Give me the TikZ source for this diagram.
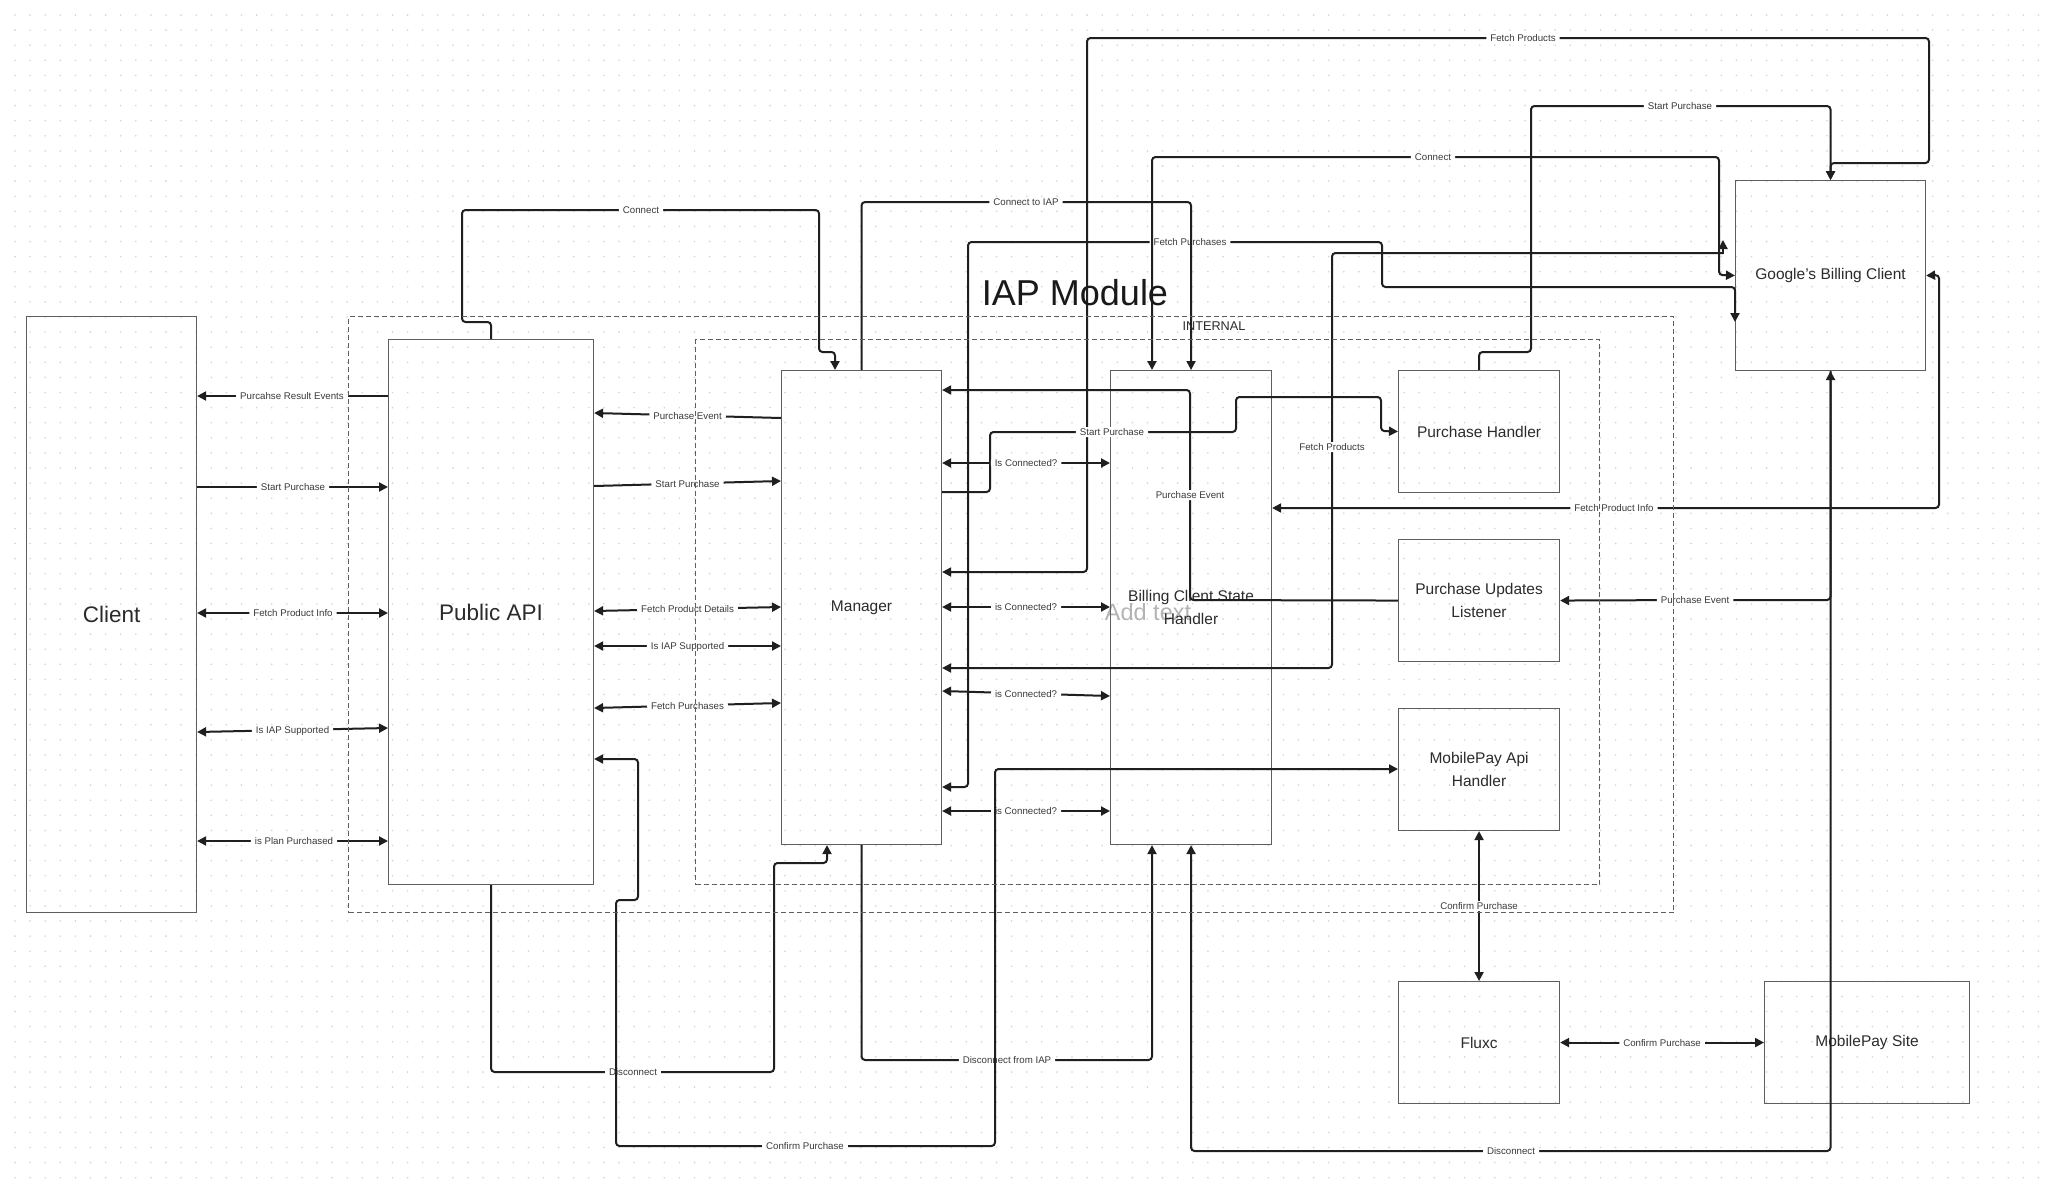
\documentclass[tikz,border=0pt]{standalone}
\usepackage{fontspec}
\setmainfont{Liberation Sans}
\usetikzlibrary{arrows.meta}
\definecolor{ink}{HTML}{1F1F1F}
\definecolor{boxc}{HTML}{5E5E5E}
\definecolor{txt}{HTML}{2B2B2B}
\definecolor{lbltxt}{HTML}{3A3A3A}
\definecolor{dotc}{HTML}{D4D4D4}
\definecolor{ghost}{HTML}{B4B4B4}
\begin{document}
\begin{tikzpicture}[x=1pt,y=-1pt,
  >={Triangle[length=9pt,width=9pt]},
  box/.style={draw=boxc, line width=1.1pt, inner sep=0pt, anchor=north west, text=txt, align=center, font=\fontsize{15.5}{23}\selectfont},
  bigbox/.style={box, font=\fontsize{22.5}{27}\selectfont},
  conn/.style={draw=ink, line width=2pt, rounded corners=3.5pt},
  lbl/.style={fill=white, inner xsep=4pt, inner ysep=1.5pt, text height=7pt, text depth=0pt, text=lbltxt, font=\fontsize{9.7}{11}\selectfont},
  container/.style={draw=boxc, line width=1.1pt, dash pattern=on 5pt off 3pt, inner sep=0pt, anchor=north west},
]
\useasboundingbox (0,0) rectangle (2048,1189);
\fill[white] (0,0) rectangle (2048,1189);
% dot grid
\foreach \k [evaluate=\k as \yy using 15+15.1*\k] in {0,...,77}
  \draw[dotc, line width=1.8pt, line cap=round, dash pattern=on 0pt off 15.1pt] (15,\yy) -- (2048,\yy);

% placeholder text
\node[font=\fontsize{23.5}{26}\selectfont, text=ghost] (addtext) at (1148,612) {Add text};

% boxes
\node[bigbox, minimum width=170pt, minimum height=596pt] (client) at (26,316) {Client};
\node[bigbox, minimum width=205pt, minimum height=545pt] (papi) at (388,339) {Public API};
\node[box, minimum width=160pt, minimum height=474pt] (mgr) at (781,370) {Manager};
\node[box, minimum width=161pt, minimum height=474pt] (bcsh) at (1110,370) {Billing Client State\\Handler};
\node[box, minimum width=161pt, minimum height=122pt] (ph) at (1398,370) {Purchase Handler};
\node[box, minimum width=161pt, minimum height=122pt] (pul) at (1398,539) {Purchase Updates\\Listener};
\node[box, minimum width=161pt, minimum height=122pt] (mpa) at (1398,708) {MobilePay Api\\Handler};
\node[box, minimum width=161pt, minimum height=122pt] (fluxc) at (1398,981) {Fluxc};
\node[box, minimum width=205pt, minimum height=122pt] (mps) at (1764,981) {MobilePay Site};
\node[box, minimum width=190pt, minimum height=190pt] (gbc) at (1735,180) {Google’s Billing Client};

% Client <-> Public API
\draw[conn,->] (papi.west |- 0,396) -- (292,396) node[lbl]{Purcahse Result Events} -- (client.east |- 0,396);
\draw[conn,->] (client.east |- 0,487) -- (293,487) node[lbl]{Start Purchase} -- (papi.west |- 0,487);
\draw[conn,<->] (client.east |- 0,613) -- (293,613) node[lbl]{Fetch Product Info} -- (papi.west |- 0,613);
\draw[conn,<->] (client.east |- 0,732) -- node[lbl]{Is IAP Supported} (papi.west |- 0,728);
\draw[conn,<->] (client.east |- 0,841) -- (294,841) node[lbl]{is Plan Purchased} -- (papi.west |- 0,841);

% Public API <-> Manager
\draw[conn,->] (mgr.west |- 0,418) -- node[lbl]{Purchase Event} (papi.east |- 0,413);
\draw[conn,->] (papi.east |- 0,486) -- node[lbl]{Start Purchase} (mgr.west |- 0,481);
\draw[conn,<->] (papi.east |- 0,611) -- node[lbl]{Fetch Product Details} (mgr.west |- 0,607);
\draw[conn,<->] (papi.east |- 0,646) -- node[lbl]{Is IAP Supported} (mgr.west |- 0,646);
\draw[conn,<->] (papi.east |- 0,708) -- node[lbl]{Fetch Purchases} (mgr.west |- 0,703);

% Connect (Public API -> Manager)
\draw[conn,->] (papi.north) -- (papi.north |- 0,322) -- (462,322) -- (462,210) -- (641,210) node[lbl]{Connect} -- (819,210) -- (819,352) -- (835,352) -- (mgr.north -| 835,0);

% Fetch Products (top)
\draw[conn,<->] (mgr.east |- 0,572) -- (1087,572) -- (1087,38) -- (1523,38) node[lbl]{Fetch Products} -- (1929,38) -- (1929,163) -- (gbc.north |- 0,163) -- (gbc.north);
% Start Purchase (top)
\draw[conn,->] (ph.north) -- (ph.north |- 0,352) -- (1531,352) -- (1531,106) -- (1680,106) node[lbl]{Start Purchase} -- (gbc.north |- 0,106) -- (gbc.north);
% Fetch Purchases
\draw[conn,<->] (mgr.east |- 0,787) -- (968,787) -- (968,242) -- (1190,242) node[lbl]{Fetch Purchases} -- (1382,242) -- (1382,287) -- (gbc.west |- 0,287) -- (gbc.west |- 0,322);
% Connect to IAP
\draw[conn,->] (mgr.north) -- (mgr.north |- 0,202) -- (1026,202) node[lbl]{Connect to IAP} -- (bcsh.north |- 0,202) -- (bcsh.north);
% Connect (BCSH <-> Google)
\draw[conn,<->] (bcsh.north -| 1152,0) -- (1152,157) -- (1433,157) node[lbl]{Connect} -- (1719,157) -- (1719,275) -- (gbc.west);
% Fetch Products (middle)
\coordinate (fpend) at (1723,240);
\draw[conn,<-] (mgr.east |- 0,668) -- (1332,668) -- (1332,447) node[lbl]{Fetch Products} -- (1332,253) -- (1723,253);
\draw[conn,->] (1723,254) -- (fpend);
% Fetch Product Info
\draw[conn,<->] (gbc.east) -- (1939,275) -- (1939,508) -- (1614,508) node[lbl]{Fetch Product Info} -- (bcsh.east |- 0,508);
% Disconnect (BCSH <-> Google)
\draw[conn,<->] (bcsh.south) -- (bcsh.south |- 0,1151) -- (1511,1151) node[lbl]{Disconnect} -- (gbc.south |- 0,1151) -- (gbc.south);
% Purchase Event (Google -> Purchase Updates Listener)
\draw[conn,->] (gbc.south) -- (gbc.south |- 0,600) -- (1695,600) node[lbl]{Purchase Event} -- (pul.east);
% Start Purchase (Manager -> Purchase Handler)
\draw[conn,->] (mgr.east |- 0,492) -- (990,492) -- (990,432) -- (1112,432) node[lbl]{Start Purchase} -- (1236,432) -- (1236,397) -- (1381,397) -- (1381,431) -- (ph.west);
% Purchase Event (Listener -> Manager)
\draw[conn,->] (pul.west) -- (1190,600) -- (1190,495) node[lbl]{Purchase Event} -- (1190,390) -- (mgr.east |- 0,390);

% Is Connected?
\draw[conn,<->] (mgr.east |- 0,463) -- node[lbl]{Is Connected?} (bcsh.west |- 0,463);
\draw[conn,<->] (mgr.east |- 0,607) -- node[lbl]{is Connected?} (bcsh.west |- 0,607);
\draw[conn,<->] (mgr.east |- 0,691) -- node[lbl]{is Connected?} (bcsh.west |- 0,696);
\draw[conn,<->] (mgr.east |- 0,811) -- node[lbl]{is Connected?} (bcsh.west |- 0,811);

% Disconnect from IAP
\draw[conn,->] (mgr.south) -- (mgr.south |- 0,1060) -- (1007,1060) node[lbl]{Disconnect from IAP} -- (1152,1060) -- (bcsh.south -| 1152,0);
% Disconnect (Public API -> Manager)
\draw[conn,->] (papi.south) -- (papi.south |- 0,1072) -- (633,1072) node[lbl]{Disconnect} -- (774,1072) -- (774,863) -- (827,863) -- (mgr.south -| 827,0);
% Confirm Purchase (Public API <-> MobilePay Api Handler)
\draw[conn,<->] (papi.east |- 0,759) -- (638,759) -- (638,900) -- (616,900) -- (616,1146) -- (805,1146) node[lbl]{Confirm Purchase} -- (995,1146) -- (995,769) -- (mpa.west |- 0,769);
% Confirm Purchase (Api Handler <-> Fluxc <-> Site)
\draw[conn,<->] (mpa.south) -- (mpa.south |- 0,906) node[lbl]{Confirm Purchase} -- (fluxc.north);
\draw[conn,<->] (fluxc.east) -- node[lbl]{Confirm Purchase} (mps.west);

% containers
\node[container, minimum width=1325pt, minimum height=596pt] (iap) at (348,316) {};
\node[container, minimum width=904pt, minimum height=545pt] (internalbox) at (695,339) {};

% titles
\node[font=\fontsize{36}{40}\selectfont, text=black!90] (title) at (1075,293) {IAP Module};
\node[font=\fontsize{12.7}{14}\selectfont, text=txt] (internal) at (1214,326) {INTERNAL};
\end{tikzpicture}
\end{document}
